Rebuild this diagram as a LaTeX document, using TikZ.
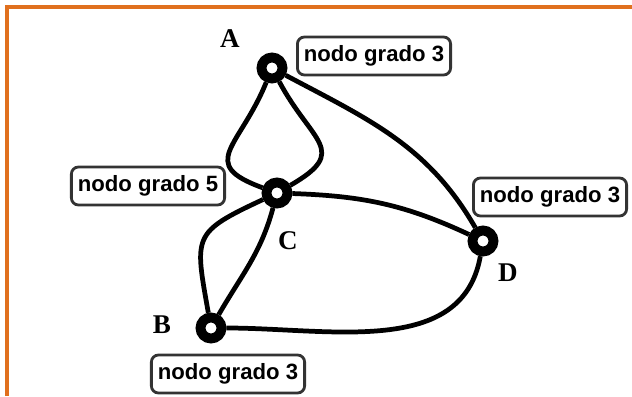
\documentclass[tikz,border=0pt]{standalone}
\usepackage{fontspec}
\newfontfamily\tagfont{Liberation Sans}
\newfontfamily\letfont{Liberation Serif}
\usepackage{tikz}
\usetikzlibrary{positioning}
\definecolor{framorange}{HTML}{E0701E}
\definecolor{tagedge}{HTML}{333333}

\begin{document}
\begin{tikzpicture}[
  x=0.02cm, y=0.02cm,
  vert/.style={circle, draw=black, fill=white, line width=5.6pt,
               minimum size=0.42cm, inner sep=0pt},
  tag/.style={rounded corners=4pt, draw=tagedge, line width=1.6pt, fill=white,
              font=\tagfont\bfseries\fontsize{12.6}{14}\selectfont,
              minimum height=0.76cm, inner xsep=0.13cm},
  lett/.style={font=\letfont\bfseries\fontsize{15.4}{17}\selectfont, inner sep=0pt},
  edge/.style={line width=2.7pt, draw=black}
]
\useasboundingbox (0,0) rectangle (632,396);
\fill[white] (0,0) rectangle (632,396);
\draw[framorange, line width=0.08cm] (7,0) -- (7,389) -- (632,389);

% vertices
\node[vert] (A) at (272,328) {};
\node[vert] (C) at (277,203) {};
\node[vert] (D) at (483,155) {};
\node[vert] (B) at (211,68) {};

% edges
\draw[edge] (A) to[out=-112, in=160, looseness=1.7] (C);
\draw[edge] (A) to[out=-62, in=30, looseness=1.7] (C);
\draw[edge] (A) to[out=-28, in=120] (D);
\draw[edge] (C) to[out=-2, in=155] (D);
\draw[edge] (C) to[out=205, in=100, looseness=1.6] (B);
\draw[edge] (C) to[out=-105, in=60] (B);
\draw[edge] (B) to[out=0, in=-100] (D);

% letters
\node[lett] (la) at (230,357) {A};
\node[lett] (lc) at (288,155) {C};
\node[lett] (ld) at (508,123) {D};
\node[lett] (lb) at (162,71) {B};

% degree tags
\node[tag] (ta) at (374,340) {nodo grado 3};
\node[tag] (tc) at (148,210) {nodo grado 5};
\node[tag] (td) at (550,199) {nodo grado 3};
\node[tag] (tb) at (228,22) {nodo grado 3};
\end{tikzpicture}
\end{document}
